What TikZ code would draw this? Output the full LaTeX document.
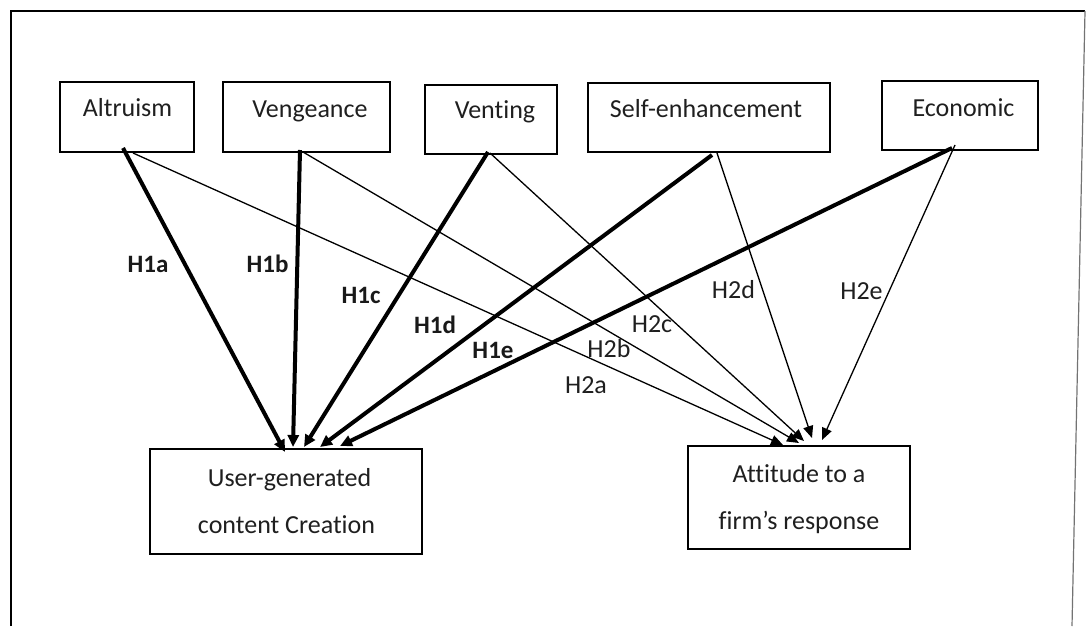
\documentclass[tikz,border=0pt]{standalone}
\usepackage{fontspec}
\setmainfont[Ligatures=NoCommon]{Carlito}
\usetikzlibrary{arrows.meta}
\begin{document}
\begin{tikzpicture}[x=1pt,y=-1pt,
  box/.style={draw=black, line width=2.5pt, rectangle, inner sep=0pt},
  txt/.style={anchor=base, inner sep=0pt, text=black!88, font=\fontsize{26}{30}\selectfont},
  hlabb/.style={anchor=base, inner sep=0pt, text=black!90, font=\fontsize{25}{30}\selectfont\bfseries},
  hlabn/.style={anchor=base, inner sep=0pt, text=black!88, font=\fontsize{26}{30}\selectfont},
  thickarr/.style={line width=4pt, -{Triangle[length=12pt,width=11pt]}},
  thinarr/.style={line width=1.3pt, -{Triangle[length=12pt,width=10pt]}},
  frame/.style={line width=2.5pt, black}
]
\useasboundingbox (0,0) rectangle (1086,626);
% frame
\coordinate (fbl) at (11,626);
\coordinate (ftl) at (11,11);
\coordinate (ftr) at (1085,11);
\coordinate (fbr) at (1072,626);
\draw[frame] (fbl) -- (ftl) -- (ftr);
\draw[line width=1.2pt, black!55] (ftr) -- (fbr);

% boxes
\node[box, minimum width=134pt, minimum height=70pt] (alt) at (127,117) {};
\node[box, minimum width=167pt, minimum height=70pt] (ven) at (306.5,117) {};
\node[box, minimum width=132pt, minimum height=69pt] (vnt) at (491,119.5) {};
\node[box, minimum width=242pt, minimum height=69pt] (self) at (709,117.5) {};
\node[box, minimum width=156pt, minimum height=69pt] (eco) at (960,115.5) {};
\node[box, minimum width=272pt, minimum height=105pt] (ugc) at (286,501.5) {};
\node[box, minimum width=222pt, minimum height=103pt] (att) at (799,497.5) {};

% texts
\node[txt] (altT) at (127.5,116) {Altruism};
\node[txt] (venT) at (310,117) {Vengeance};
\node[txt] (vntT) at (495,118) {Venting};
\node[txt] (selfT) at (706,117) {Self-enhancement};
\node[txt] (ecoT) at (963.5,116) {Economic};
\node[txt] (ugcT1) at (289.5,486) {User-generated};
\node[txt] (ugcT2) at (286.5,533) {content Creation};
\node[txt] (attT1) at (799,482) {Attitude to a};
\node[txt] (attT2) at (799,529) {firm’s response};

% start and end points
\coordinate (a1) at (123,148);
\coordinate (a2) at (133,153);
\coordinate (b1) at (300,150);
\coordinate (b2) at (303,152);
\coordinate (c1) at (488,152);
\coordinate (c2) at (490,153);
\coordinate (d1) at (712,155);
\coordinate (d2) at (717,153);
\coordinate (e1) at (952,148);
\coordinate (e2) at (955,145);
\coordinate (ua) at (285,452);
\coordinate (ub) at (293,447);
\coordinate (uc) at (304,447);
\coordinate (ud) at (320,447);
\coordinate (ue) at (340,446);
\coordinate (ta) at (783,445);
\coordinate (tb) at (799,443);
\coordinate (tc) at (804,441);
\coordinate (td) at (812,438);
\coordinate (te) at (822,440);

% H1 arrows (thick)
\draw[thickarr] (a1) -- (ua);
\draw[thickarr] (b1) -- (ub);
\draw[thickarr] (c1) -- (uc);
\draw[thickarr] (d1) -- (ud);
\draw[thickarr] (e1) -- (ue);
% H2 arrows (thin)
\draw[thinarr] (a2) -- (ta);
\draw[thinarr] (b2) -- (tb);
\draw[thinarr] (c2) -- (tc);
\draw[thinarr] (d2) -- (td);
\draw[thinarr] (e2) -- (te);

% labels
\node[hlabb] (h1a) at (148,272) {H1a};
\node[hlabb] (h1b) at (267.5,272) {H1b};
\node[hlabb] (h1c) at (361,303) {H1c};
\node[hlabb] (h1d) at (435,333) {H1d};
\node[hlabb] (h1e) at (493,358) {H1e};
\node[hlabn] (h2a) at (586,393) {H2a};
\node[hlabn] (h2b) at (609,357) {H2b};
\node[hlabn] (h2c) at (652,332) {H2c};
\node[hlabn] (h2d) at (733.5,298) {H2d};
\node[hlabn] (h2e) at (861.5,299) {H2e};
\end{tikzpicture}
\end{document}
